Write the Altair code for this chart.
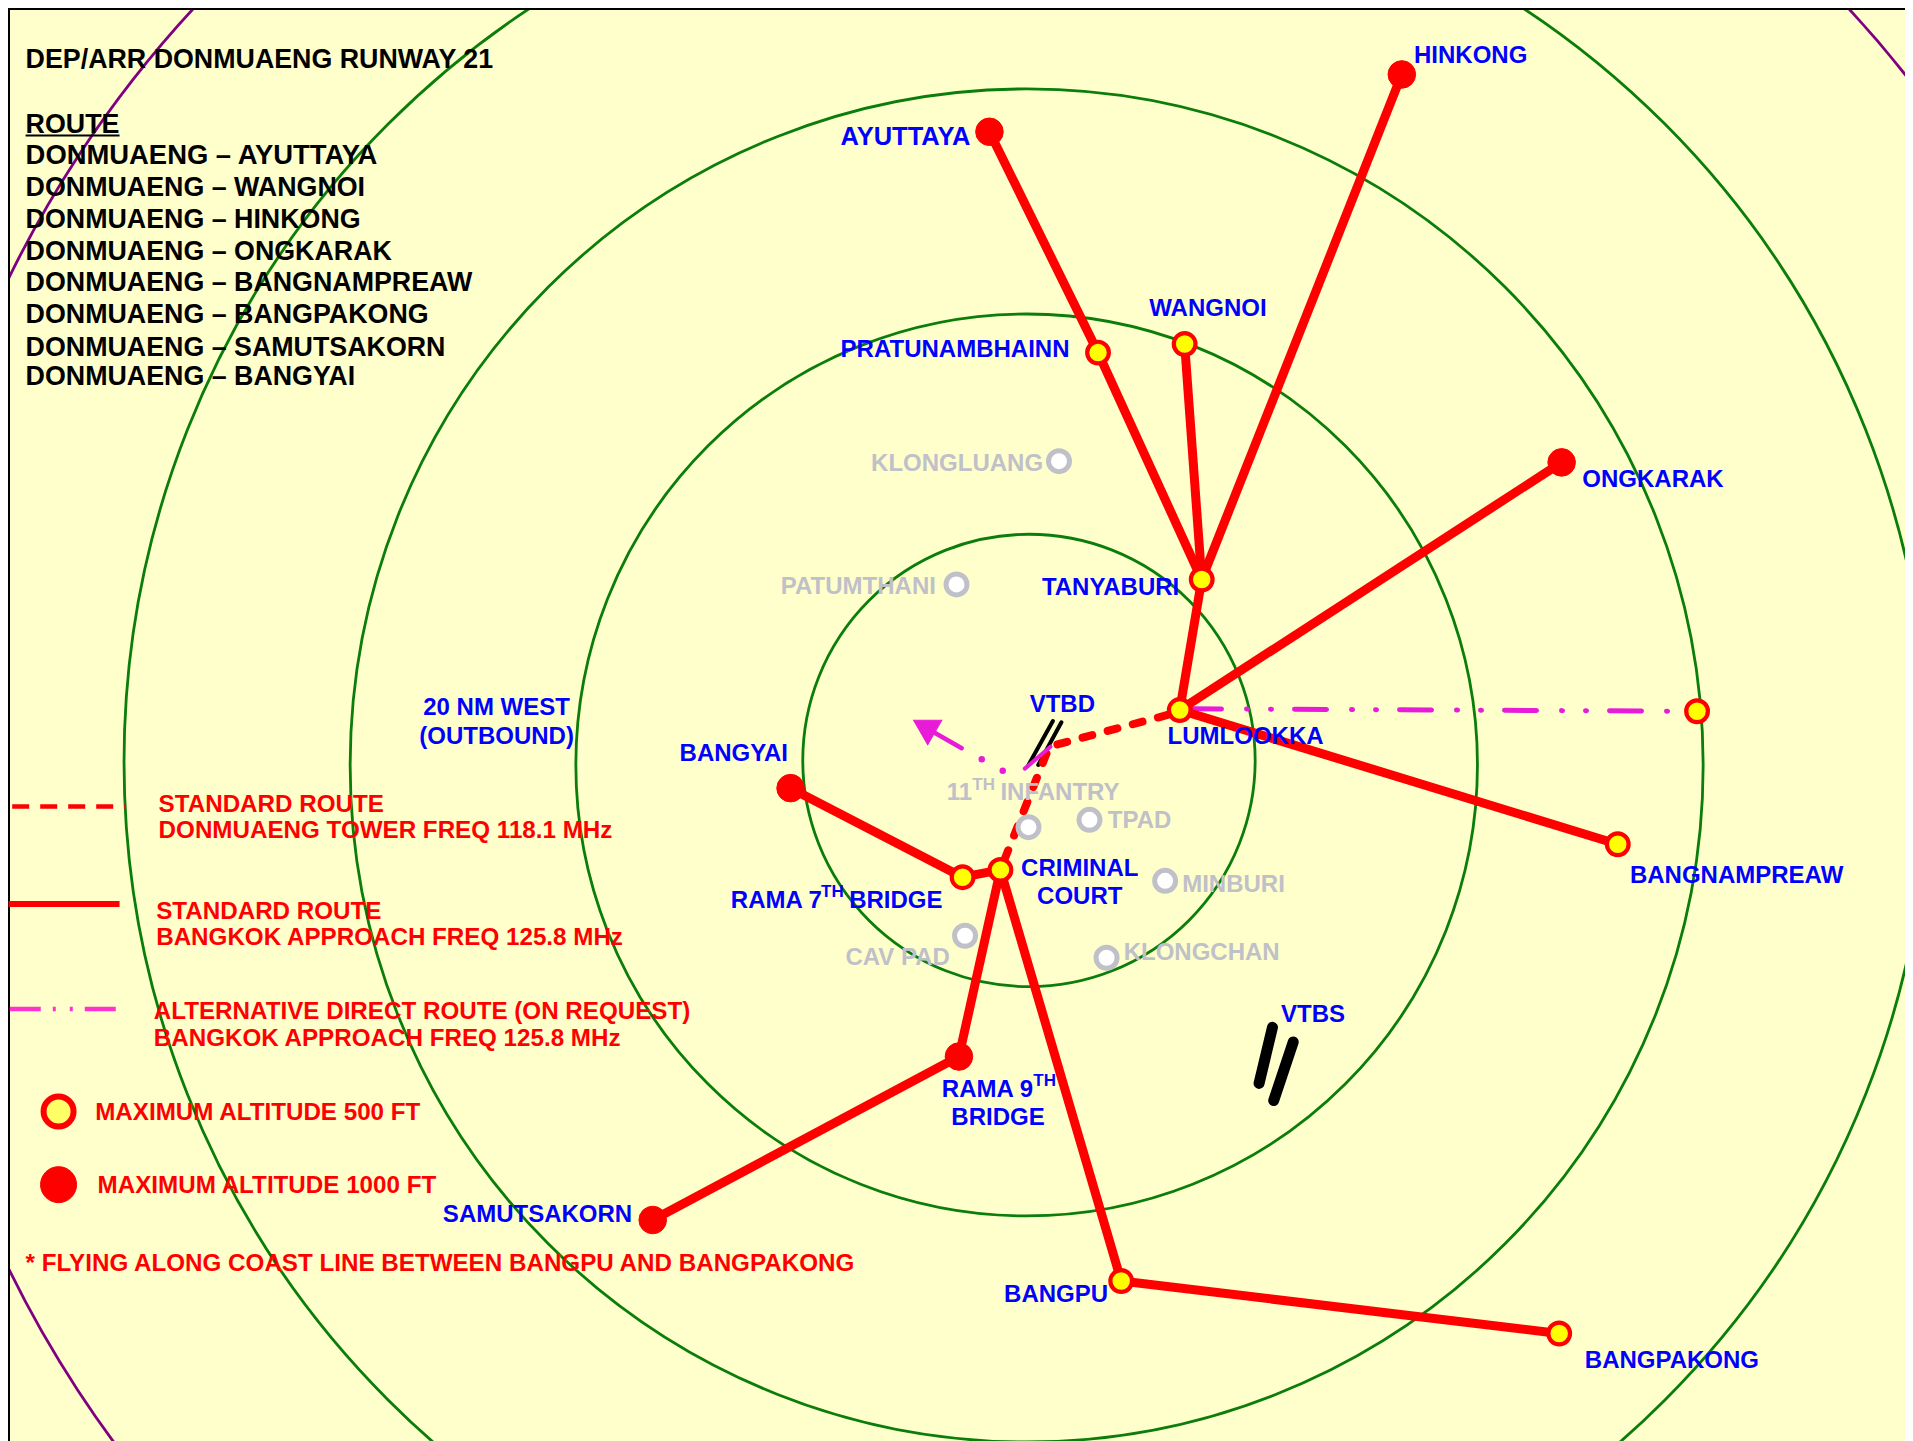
import altair as alt
import pandas as pd

# All chart values are map coordinates (1568-wide reading grid).
K = 1913 / 1568
W, H = 1897, 1433
FONT = "Liberation Sans"
BG = "#FFFFCC"
RED = "#FF0000"
BLUE = "#0000FF"
GREY = "#C0C0C8"
MAG = "#E81CD8"
PINK = "#FF33CC"

RINGS_GREEN = [(843.4, 623.3, 226.2), (841.5, 627.0, 450.8), (841.5, 627.4, 676.5), (841.4, 624.6, 902.5)]
RINGS_PURPLE = [(836.9, 634.0, 1127.0)]

ROUTES = {
    "ayuttaya": [(811, 108), (900, 289), (985, 475)],
    "wangnoi": [(971, 282), (985, 475)],
    "hinkong": [(1149, 61), (985, 475)],
    "tanyaburi": [(985, 475), (967, 582)],
    "ongkarak": [(1280, 379), (967, 582)],
    "bangnampreaw": [(1326, 692), (967, 582)],
    "bangyai": [(648, 646), (789, 719), (820, 713)],
    "rama9": [(820, 713), (786, 866), (535, 1000)],
    "bangpu": [(820, 713), (919, 1050), (1278, 1093)],
}
TOWER_ROUTE = [(957, 586), (860, 612), (820, 713)]
ALT_ROUTE = [(975, 581), (1391, 583)]
OUTBOUND_SOLID = [(840, 630), (861, 612)]
OUTBOUND_DOTS = [(804.7, 622.4), (821.9, 631.7)]
ARROW_SHAFT = [(788.3, 613.3), (765, 600)]
ARROW_HEAD = [(757.5, 595.4)]
RUNWAYS_THIN = {"a": [(863, 591), (843, 627)], "b": [(870, 592), (851, 627)]}
RUNWAYS_THICK = {"a": [(1043, 842), (1032, 888)], "b": [(1060, 854), (1044, 902)]}

POINTS_500 = [(900, 289), (971, 282), (985, 475), (967, 582), (1391, 583), (1326, 692),
              (789, 719), (820, 713), (919, 1050), (1278, 1093)]
POINTS_1000 = [(811, 108), (1149, 61), (1280, 379), (648, 646), (786, 866), (535, 1000)]
POINTS_GREY = [(868, 378), (784, 479), (843, 678), (893, 672), (955, 722), (791, 767), (907, 785)]

LEG_DASH = [(10, 661), (103, 661)]
LEG_SOLID = [(7, 741), (98, 741)]
LEG_ALT = [(8, 827), (96, 827)]
LEG_500 = [(48, 911)]
LEG_1000 = [(48, 971)]
UNDERLINE = [(21, 111), (98, 111)]

BLACK_TEXT = [
    ("DEP/ARR DONMUAENG RUNWAY 21", 21, 48), ("ROUTE", 21, 101),
    ("DONMUAENG – WANGNOI", 21, 153),
    ("DONMUAENG – HINKONG", 21, 179), ("DONMUAENG – ONGKARAK", 21, 205),
    ("DONMUAENG – BANGNAMPREAW", 21, 231), ("DONMUAENG – BANGPAKONG", 21, 257),
    ("DONMUAENG – SAMUTSAKORN", 21, 284), ("DONMUAENG – BANGYAI", 21, 308),
]
BLACK_WIDE = [("DONMUAENG – AYUTTAYA", 21, 127)]
RED_TEXT = [
    ("STANDARD ROUTE", 130, 659), ("DONMUAENG TOWER FREQ 118.1 MHz", 130, 680),
    ("STANDARD ROUTE", 128, 746), ("BANGKOK APPROACH FREQ 125.8 MHz", 128, 768),
    ("ALTERNATIVE DIRECT ROUTE (ON REQUEST)", 126, 828), ("BANGKOK APPROACH FREQ 125.8 MHz", 126, 850),
    ("MAXIMUM ALTITUDE 500 FT", 78, 911), ("MAXIMUM ALTITUDE 1000 FT", 80, 971),
    ("* FLYING ALONG COAST LINE BETWEEN BANGPU AND BANGPAKONG", 21, 1035),
]
BLUE_TEXT = [
    ("HINKONG", 1159, 45), ("WANGNOI", 942, 252),
    ("PRATUNAMBHAINN", 689, 286), ("ONGKARAK", 1297, 392), ("TANYABURI", 854, 481),
    ("VTBD", 844, 577), ("LUMLOOKKA", 957, 603), ("BANGYAI", 557, 617),
    ("RAMA 7", 599, 737), ("BRIDGE", 696, 737), ("RAMA 9", 772, 892),
    ("BANGNAMPREAW", 1336, 717), ("VTBS", 1050, 831), ("SAMUTSAKORN", 363, 995),
    ("BANGPU", 823, 1060), ("BANGPAKONG", 1299, 1114),
]
BLUE_WIDE = [("AYUTTAYA", 689, 111)]
BLUE_CENTER = [
    ("20 NM WEST", 407, 579), ("(OUTBOUND)", 407, 603), ("CRIMINAL", 885, 711),
    ("COURT", 885, 734), ("BRIDGE", 818, 915),
]
BLUE_SUP = [("TH", 673, 730), ("TH", 847, 885)]
GREY_TEXT = [
    ("KLONGLUANG", 714, 379), ("PATUMTHANI", 640, 480), ("11", 776, 649), ("INFANTRY", 820, 649),
    ("TPAD", 908, 672), ("MINBURI", 969, 724), ("CAV PAD", 693, 784), ("KLONGCHAN", 921, 780),
]
GREY_SUP = [("TH", 797, 642)]

xs = alt.Scale(domain=[8 / K, (8 + W) / K], range=[0, W], nice=False, zero=False)
ys = alt.Scale(domain=[8 / K, (8 + H) / K], range=[0, H], nice=False, zero=False)
X = alt.X("x:Q", scale=xs, axis=None)
Y = alt.Y("y:Q", scale=ys, axis=None)


def lines(paths, color, width, dash=None, cap="round"):
    rows = [{"r": k, "i": i, "x": p[0], "y": p[1]} for k, pts in paths.items() for i, p in enumerate(pts)]
    kw = dict(color=color, strokeWidth=width, strokeCap=cap, strokeJoin="round")
    if dash:
        kw["strokeDash"] = dash
    return alt.Chart(pd.DataFrame(rows)).mark_line(**kw).encode(x=X, y=Y, detail="r:N", order="i:Q")


def dots(pts, fill, stroke, sw, size):
    df = pd.DataFrame(pts, columns=["x", "y"])
    return alt.Chart(df).mark_point(shape="circle", filled=True, fill=fill, stroke=stroke,
                                    strokeWidth=sw, size=size, opacity=1).encode(x=X, y=Y)


def ring(spec, color):
    cx, cy, r = spec
    df = pd.DataFrame([(cx, cy)], columns=["x", "y"])
    return alt.Chart(df).mark_point(shape="circle", filled=False, stroke=color, strokeWidth=2.8,
                                    size=(2 * r) ** 2, opacity=1, clip=True).encode(x=X, y=Y)


def texts(rows, color, size, align="left"):
    df = pd.DataFrame(rows, columns=["t", "x", "y"])
    return alt.Chart(df).mark_text(font=FONT, fontWeight="bold", fontSize=size, color=color, dy=1.5,
                                   align=align, baseline="middle").encode(x=X, y=Y, text="t:N")


layers = [ring(s, "#0A7D0A") for s in RINGS_GREEN] + [ring(s, "#800080") for s in RINGS_PURPLE]

frame = [
    alt.Chart(pd.DataFrame({"a": [0]})).mark_rule(color="black", strokeWidth=3).encode(
        x=alt.value(0.5), y=alt.value(0), y2=alt.value(H)),
    alt.Chart(pd.DataFrame({"a": [0]})).mark_rule(color="black", strokeWidth=3).encode(
        y=alt.value(0.5), x=alt.value(0), x2=alt.value(W)),
]

arrow_df = pd.DataFrame(ARROW_HEAD, columns=["x", "y"])
arrow = alt.Chart(arrow_df).mark_point(shape="triangle-up", filled=True, fill=MAG, stroke=MAG, strokeWidth=1,
                                       angle=300, size=800, opacity=1).encode(x=X, y=Y)

layers += frame + [
    lines(RUNWAYS_THIN, "black", 4),
    lines(RUNWAYS_THICK, "black", 11),
    lines({"d": TOWER_ROUTE}, RED, 8, dash=[10, 16]),
    dots(OUTBOUND_DOTS, MAG, MAG, 0, 42),
    lines({"o": OUTBOUND_SOLID}, MAG, 4),
    lines({"o": ARROW_SHAFT}, MAG, 4.5),
    arrow,
    lines({"a": ALT_ROUTE}, MAG, 5, dash=[32, 25, 1, 23, 1, 23]),
    lines(ROUTES, RED, 9, cap="butt"),
    lines({"l": LEG_DASH}, RED, 4.5, dash=[17, 11], cap="butt"),
    lines({"l": LEG_SOLID}, RED, 6, cap="butt"),
    lines({"l": LEG_ALT}, PINK, 4.5, dash=[31, 12, 3, 14, 3, 12], cap="butt"),
    lines({"u": UNDERLINE}, "black", 2, cap="butt"),
    dots(POINTS_GREY, "white", GREY, 5, 441),
    dots(POINTS_1000, RED, RED, 1, 760),
    dots(POINTS_500, "#FFFF00", RED, 4.2, 470),
    dots(LEG_500, "#FFFF66", RED, 6, 900),
    dots(LEG_1000, RED, RED, 1, 1296),
    texts(BLACK_TEXT, "black", 26.8),
    texts(BLACK_WIDE, "black", 27.4),
    texts(RED_TEXT, RED, 24.2),
    texts(BLUE_TEXT, BLUE, 24),
    texts(BLUE_WIDE, BLUE, 25.5),
    texts(BLUE_CENTER, BLUE, 24, align="center"),
    texts(BLUE_SUP, BLUE, 17),
    texts(GREY_TEXT, GREY, 24),
    texts(GREY_SUP, GREY, 17),
]

chart = alt.layer(*layers).properties(
    width=W, height=H, padding=0, background="white",
    autosize=alt.AutoSizeParams(type="none"),
).configure_view(fill=BG, stroke=None)

chart.save("out.html", embed_options={"renderer": "svg", "actions": False})
